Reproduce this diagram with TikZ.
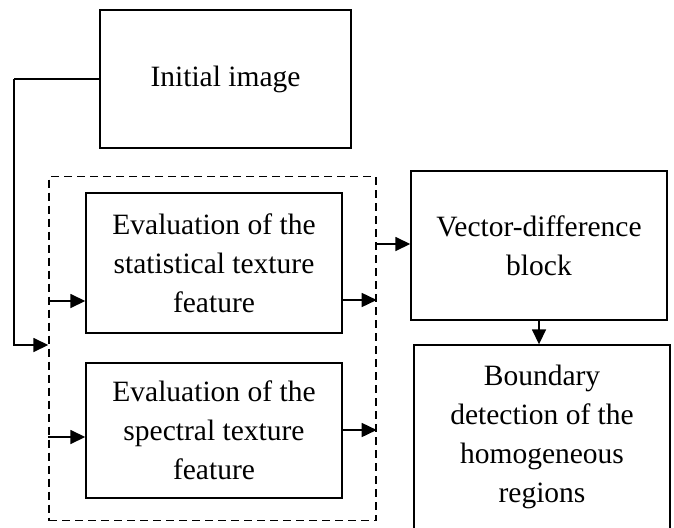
\documentclass[tikz,border=0pt]{standalone}
\usepackage{fontspec}
\setmainfont{Liberation Serif}
\usetikzlibrary{arrows.meta}

\tikzset{
  blk/.style={draw, line width=1.4pt, align=center, inner sep=0pt},
  grpbox/.style={draw, dashed, dash pattern=on 8pt off 5pt, line width=1.4pt, inner sep=0pt},
  arr/.style={line width=1.6pt, -{Triangle[length=15pt,width=14pt]}},
  plain/.style={line width=1.6pt}
}

\begin{document}
\begin{tikzpicture}[x=1pt, y=-1pt, font=\fontsize{29.5}{39}\selectfont]
		\useasboundingbox (0,0) rectangle (674,527);

		\node [blk, minimum width=251pt, minimum height=138pt] (init) at (225.5,79) {Initial image};
		\node [grpbox, minimum width=327pt, minimum height=344pt] (grp) at (212.5,348.5) {};
		\node [blk, minimum width=256pt, minimum height=140pt] (eval1) at (214,263) {Evaluation of the\\statistical texture\\feature};
		\node [blk, minimum width=256pt, minimum height=135pt] (eval2) at (214,430.5) {Evaluation of the\\spectral texture\\feature};
		\node [blk, minimum width=256pt, minimum height=149pt] (vec) at (539,245.5) {Vector-difference\\block};
		\node [blk, minimum width=256pt, minimum height=196pt] (bound) at (542,443) {};
		\node [align=center] (boundtxt) at (542,437) {Boundary\\detection of the\\homogeneous\\regions};

		\coordinate (bend) at (14,79);
		\draw [plain] (init.west) -- (bend);
		\draw [arr] (bend) |- (grp.west |- 0,345);

		\draw [arr] (grp.west |- 0,301) -- (eval1.west |- 0,301);
		\draw [arr] (eval1.east |- 0,300) -- (grp.east |- 0,300);
		\draw [arr] (grp.west |- 0,437) -- (eval2.west |- 0,437);
		\draw [arr] (eval2.east |- 0,430) -- (grp.east |- 0,430);

		\draw [arr] (grp.east |- 0,244) -- (vec.west |- 0,244);
		\draw [arr] (vec.south) -- (vec.south |- bound.north);
	\end{tikzpicture}
\end{document}
